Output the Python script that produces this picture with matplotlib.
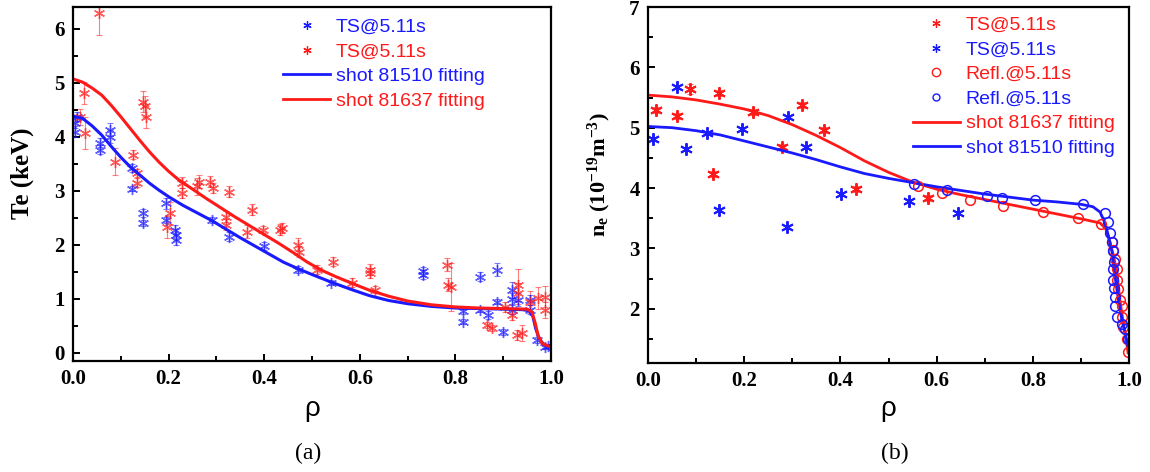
import matplotlib
matplotlib.use("Agg")
import matplotlib.pyplot as plt
from matplotlib.ticker import MultipleLocator, FormatStrFormatter
from matplotlib.lines import Line2D

plt.rcParams['mathtext.fontset'] = 'custom'
plt.rcParams['mathtext.rm'] = 'Liberation Serif:bold'
plt.rcParams['mathtext.it'] = 'Liberation Serif:bold'
plt.rcParams['mathtext.bf'] = 'Liberation Serif:bold'

BLUE = '#1a1aff'
RED = '#ff1a1a'

# ---------------- panel (a): Te ----------------
te_blue_x = [0.004, 0.004, 0.008, 0.056, 0.056, 0.077, 0.077, 0.123, 0.123, 0.147, 0.147,
             0.195, 0.195, 0.213, 0.215, 0.215, 0.29, 0.327, 0.40, 0.47, 0.54, 0.732, 0.732,
             0.816, 0.816, 0.851, 0.851, 0.869, 0.887, 0.887, 0.90, 0.918, 0.918, 0.918,
             0.931, 0.956, 0.956, 0.97, 0.987, 0.993]
te_blue_y = [4.26, 4.09, 4.37, 3.89, 3.76, 4.13, 4.00, 3.42, 3.04, 2.59, 2.40,
             2.77, 2.46, 2.28, 2.19, 2.09, 2.46, 2.15, 1.98, 1.54, 1.30, 1.51, 1.45,
             0.58, 0.77, 1.41, 0.80, 0.70, 1.54, 0.95, 0.39, 1.17, 1.00, 0.80,
             0.98, 0.98, 0.80, 0.24, 0.11, 0.13]
te_blue_err = [0.10, 0.10, 0.08, 0.08, 0.08, 0.12, 0.12, 0.08, 0.05, 0.08, 0.06,
               0.10, 0.06, 0.08, 0.10, 0.10, 0.05, 0.08, 0.08, 0.06, 0.05, 0.08, 0.08,
               0.05, 0.05, 0.08, 0.05, 0.08, 0.12, 0.05, 0.05, 0.15, 0.10, 0.08,
               0.12, 0.10, 0.08, 0.05, 0.04, 0.04]

te_red_x = [0.055, 0.023, 0.015, 0.025, 0.088, 0.147, 0.150, 0.153, 0.125, 0.133, 0.133,
            0.196, 0.203, 0.228, 0.228, 0.259, 0.263, 0.287, 0.293, 0.327, 0.320, 0.320,
            0.364, 0.375, 0.397, 0.437, 0.433, 0.471, 0.473, 0.510, 0.544, 0.584, 0.621,
            0.621, 0.632, 0.782, 0.785, 0.790, 0.866, 0.876, 0.904, 0.918, 0.928, 0.930,
            0.930, 0.939, 0.956, 0.973, 0.987, 0.987]
te_red_y = [6.29, 4.81, 4.37, 4.07, 3.54, 4.65, 4.56, 4.37, 3.67, 3.33, 3.15,
            2.33, 2.59, 3.15, 2.96, 3.08, 3.17, 3.17, 3.05, 2.98, 2.52, 2.37,
            2.24, 2.65, 2.28, 2.31, 2.28, 2.00, 1.87, 1.54, 1.69, 1.30, 1.54,
            1.48, 1.17, 1.63, 1.26, 1.22, 0.52, 0.46, 0.85, 0.70, 0.33, 1.26,
            1.10, 0.37, 0.94, 1.02, 1.04, 0.80]
te_red_err = [0.40, 0.20, 0.15, 0.30, 0.25, 0.20, 0.20, 0.20, 0.08, 0.08, 0.08,
              0.20, 0.20, 0.10, 0.10, 0.15, 0.12, 0.10, 0.10, 0.10, 0.10, 0.10,
              0.12, 0.10, 0.06, 0.10, 0.10, 0.12, 0.10, 0.08, 0.08, 0.08, 0.10,
              0.10, 0.06, 0.12, 0.12, 0.45, 0.06, 0.06, 0.10, 0.10, 0.10, 0.30,
              0.20, 0.15, 0.20, 0.20, 0.20, 0.15]

te_fit_blue_x = [0.0, 0.02, 0.04, 0.06, 0.08, 0.10, 0.12, 0.14, 0.16, 0.18, 0.20, 0.23,
                 0.26, 0.29, 0.32, 0.35, 0.38, 0.41, 0.44, 0.47, 0.50, 0.54, 0.58, 0.62,
                 0.66, 0.70, 0.75, 0.80, 0.85, 0.90, 0.94, 0.955, 0.962, 0.968, 0.975,
                 0.985, 1.0]
te_fit_blue_y = [4.38, 4.34, 4.20, 4.03, 3.82, 3.62, 3.44, 3.29, 3.14, 3.01, 2.89, 2.73,
                 2.59, 2.45, 2.29, 2.13, 1.98, 1.83, 1.68, 1.56, 1.45, 1.31, 1.18, 1.06,
                 0.97, 0.91, 0.86, 0.83, 0.82, 0.81, 0.80, 0.78, 0.68, 0.45, 0.27,
                 0.15, 0.11]
te_fit_red_x = [0.0, 0.02, 0.04, 0.06, 0.08, 0.10, 0.12, 0.14, 0.16, 0.18, 0.20, 0.22,
                0.25, 0.28, 0.31, 0.34, 0.37, 0.40, 0.43, 0.46, 0.49, 0.52, 0.55, 0.58,
                0.62, 0.66, 0.70, 0.75, 0.80, 0.85, 0.90, 0.95, 0.96, 0.967, 0.973,
                0.982, 1.0]
te_fit_red_y = [5.07, 5.01, 4.90, 4.77, 4.58, 4.37, 4.15, 3.93, 3.72, 3.53, 3.36, 3.21,
                3.03, 2.85, 2.68, 2.51, 2.35, 2.19, 2.03, 1.86, 1.68, 1.53, 1.41, 1.30,
                1.16, 1.05, 0.96, 0.89, 0.85, 0.83, 0.82, 0.81, 0.76, 0.55, 0.32,
                0.17, 0.11]

# ---------------- panel (b): ne ----------------
ne_ts_red_x = [0.017, 0.060, 0.087, 0.148, 0.218, 0.279, 0.320, 0.366, 0.135, 0.432, 0.582]
ne_ts_red_y = [5.30, 5.19, 5.64, 5.57, 5.26, 4.68, 5.37, 4.96, 4.23, 3.99, 3.83]
ne_ts_red_err = [0.05, 0.05, 0.08, 0.05, 0.05, 0.05, 0.05, 0.05, 0.05, 0.05, 0.05]
ne_ts_blue_x = [0.010, 0.060, 0.079, 0.123, 0.195, 0.148, 0.291, 0.328, 0.289, 0.401, 0.543, 0.645]
ne_ts_blue_y = [4.82, 5.68, 4.64, 4.92, 4.97, 3.63, 5.18, 4.68, 3.35, 3.90, 3.78, 3.59]

ne_refl_red_x = [0.561, 0.611, 0.669, 0.738, 0.821, 0.894, 0.942, 0.964, 0.966, 0.971,
                 0.975, 0.975, 0.977, 0.981, 0.985, 0.985, 0.988, 0.996, 0.998]
ne_refl_red_y = [4.03, 3.91, 3.80, 3.70, 3.61, 3.51, 3.40, 3.11, 2.98, 2.82,
                 2.65, 2.48, 2.32, 2.15, 2.04, 1.87, 1.70, 1.49, 1.29]
ne_refl_blue_x = [0.553, 0.622, 0.705, 0.736, 0.805, 0.904, 0.950, 0.956, 0.960, 0.965,
                  0.967, 0.969, 0.967, 0.967, 0.969, 0.971, 0.971, 0.975, 0.985, 0.992, 0.998]
ne_refl_blue_y = [4.07, 3.96, 3.86, 3.83, 3.80, 3.73, 3.59, 3.43, 3.26, 3.10,
                  2.95, 2.78, 2.65, 2.48, 2.35, 2.20, 2.04, 1.87, 1.74, 1.66, 1.49]

ne_fit_blue_x = [0.0, 0.05, 0.10, 0.15, 0.20, 0.25, 0.30, 0.35, 0.40, 0.45, 0.50, 0.55,
                 0.60, 0.65, 0.70, 0.75, 0.80, 0.85, 0.90, 0.925, 0.94, 0.95, 0.958,
                 0.965, 0.971, 0.978, 0.985, 0.992, 0.998]
ne_fit_blue_y = [5.02, 5.00, 4.95, 4.88, 4.78, 4.68, 4.58, 4.47, 4.35, 4.24, 4.16, 4.09,
                 4.02, 3.96, 3.90, 3.85, 3.80, 3.77, 3.73, 3.69, 3.60, 3.42, 3.18,
                 2.93, 2.53, 2.15, 1.82, 1.60, 1.37]
ne_fit_red_x = [0.0, 0.05, 0.10, 0.15, 0.20, 0.25, 0.30, 0.35, 0.40, 0.45, 0.50, 0.55,
                0.60, 0.65, 0.70, 0.75, 0.80, 0.85, 0.90, 0.94, 0.952, 0.96, 0.967,
                0.975, 0.981, 0.988, 0.994, 0.998]
ne_fit_red_y = [5.54, 5.51, 5.46, 5.39, 5.31, 5.20, 5.05, 4.87, 4.67, 4.45, 4.26, 4.10,
                3.98, 3.89, 3.81, 3.73, 3.65, 3.57, 3.49, 3.42, 3.32, 3.12, 2.90,
                2.60, 2.15, 1.77, 1.49, 1.27]

ASTER = (6, 2, 0)
SERIF_B = dict(family='Liberation Serif', weight='bold')

fig = plt.figure(figsize=(11.5, 4.72), dpi=100)
axa = fig.add_axes([73/1150, 111/472, 478/1150, 354/472])
axb = fig.add_axes([648/1150, 109/472, 481/1150, 356/472])


def style_axes(ax):
    for s in ax.spines.values():
        s.set_linewidth(1.6)
    ax.tick_params(which='both', direction='in', top=False, right=False, width=1.4)
    ax.tick_params(which='major', length=5, pad=6)
    ax.tick_params(which='minor', length=3.5)
    ax.xaxis.set_major_locator(MultipleLocator(0.2))
    ax.xaxis.set_minor_locator(MultipleLocator(0.1))
    ax.yaxis.set_major_locator(MultipleLocator(1))
    ax.yaxis.set_minor_locator(MultipleLocator(0.5))
    ax.set_xlim(0, 1.0)
    ax.xaxis.set_major_formatter(FormatStrFormatter('%.1f'))
    ax.yaxis.set_major_formatter(FormatStrFormatter('%d'))
    for lab in ax.get_xticklabels() + ax.get_yticklabels():
        lab.set_fontfamily('Liberation Serif')
        lab.set_fontweight('bold')
        lab.set_fontsize(15)


# panel (a)
eb_kw = dict(fmt='none', elinewidth=0.8, capsize=2.5, capthick=0.8, alpha=0.55)
axa.errorbar(te_blue_x, te_blue_y, yerr=te_blue_err, ecolor=BLUE, **eb_kw)
axa.errorbar(te_red_x, te_red_y, yerr=te_red_err, ecolor=RED, **eb_kw)
axa.plot(te_blue_x, te_blue_y, ls='none', marker=ASTER, ms=8, mew=1.0, color=BLUE, alpha=0.7)
axa.plot(te_red_x, te_red_y, ls='none', marker=ASTER, ms=8, mew=1.0, color=RED, alpha=0.7)
axa.plot(te_fit_blue_x, te_fit_blue_y, color=BLUE, lw=2.2)
axa.plot(te_fit_red_x, te_fit_red_y, color=RED, lw=2.2)
axa.set_ylim(-0.15, 6.4)
style_axes(axa)
axa.set_ylabel('Te (keV)', fontsize=18, **SERIF_B)
axa.yaxis.set_label_coords(-0.082, 0.53)
axa.set_xlabel('ρ', fontsize=20, family='Liberation Sans', labelpad=5)

ha = [Line2D([], [], ls='none', marker=ASTER, ms=6, mew=0.9, color=BLUE),
      Line2D([], [], ls='none', marker=ASTER, ms=6, mew=0.9, color=RED),
      Line2D([], [], color=BLUE, lw=2),
      Line2D([], [], color=RED, lw=2)]
la = ['TS@5.11s', 'TS@5.11s', 'shot 81510 fitting', 'shot 81637 fitting']
lega = axa.legend(ha, la, loc='upper left', bbox_to_anchor=(0.44, 0.968), frameon=False,
                  prop=dict(family='Liberation Sans', size=14), handlelength=2.4,
                  handletextpad=0.3, labelspacing=0.36, borderpad=0, borderaxespad=0)
for t, c in zip(lega.get_texts(), [BLUE, RED, BLUE, RED]):
    t.set_color(c)

# panel (b)
axb.errorbar(ne_ts_red_x, ne_ts_red_y, yerr=ne_ts_red_err, fmt='none', ecolor=RED,
             elinewidth=0.8, capsize=2.5, capthick=0.8, alpha=0.6)
axb.plot(ne_ts_red_x, ne_ts_red_y, ls='none', marker=ASTER, ms=9, mew=1.4, color=RED)
axb.plot(ne_ts_blue_x, ne_ts_blue_y, ls='none', marker=ASTER, ms=9, mew=1.4, color=BLUE)
axb.plot(ne_fit_red_x, ne_fit_red_y, color=RED, lw=2.0)
axb.plot(ne_fit_blue_x, ne_fit_blue_y, color=BLUE, lw=2.0)
axb.plot(ne_refl_red_x, ne_refl_red_y, ls='none', marker='o', ms=7, mfc='none', mew=1.1, color=RED)
axb.plot(ne_refl_blue_x, ne_refl_blue_y, ls='none', marker='o', ms=7, mfc='none', mew=1.1, color=BLUE)
axb.set_ylim(1.1, 7.0)
style_axes(axb)
axb.set_ylabel(r'n$_\mathregular{e}$ (10$^\mathregular{-19}$m$^\mathregular{-3}$)',
               fontsize=16, **SERIF_B)
axb.yaxis.set_label_coords(-0.072, 0.53)
axb.set_xlabel('ρ', fontsize=20, family='Liberation Sans', labelpad=3)

hb = [Line2D([], [], ls='none', marker=ASTER, ms=6, mew=0.9, color=RED),
      Line2D([], [], ls='none', marker=ASTER, ms=6, mew=0.9, color=BLUE),
      Line2D([], [], ls='none', marker='o', ms=6, mfc='none', mew=1.0, color=RED),
      Line2D([], [], ls='none', marker='o', ms=5, mfc='none', mew=1.0, color=BLUE),
      Line2D([], [], color=RED, lw=2),
      Line2D([], [], color=BLUE, lw=2)]
lb = ['TS@5.11s', 'TS@5.11s', 'Refl.@5.11s', 'Refl.@5.11s',
      'shot 81637 fitting', 'shot 81510 fitting']
legb = axb.legend(hb, lb, loc='upper left', bbox_to_anchor=(0.551, 0.974), frameon=False,
                  prop=dict(family='Liberation Sans', size=14), handlelength=2.4,
                  handletextpad=0.3, labelspacing=0.36, borderpad=0, borderaxespad=0)
for t, c in zip(legb.get_texts(), [RED, BLUE, RED, BLUE, RED, BLUE]):
    t.set_color(c)

fig.text(308/1150, 1 - 453/472, '(a)', ha='center', va='center', fontsize=17,
         family='Liberation Serif')
fig.text(895/1150, 1 - 453/472, '(b)', ha='center', va='center', fontsize=17,
         family='Liberation Serif')

fig.savefig('out.png', dpi=100)
